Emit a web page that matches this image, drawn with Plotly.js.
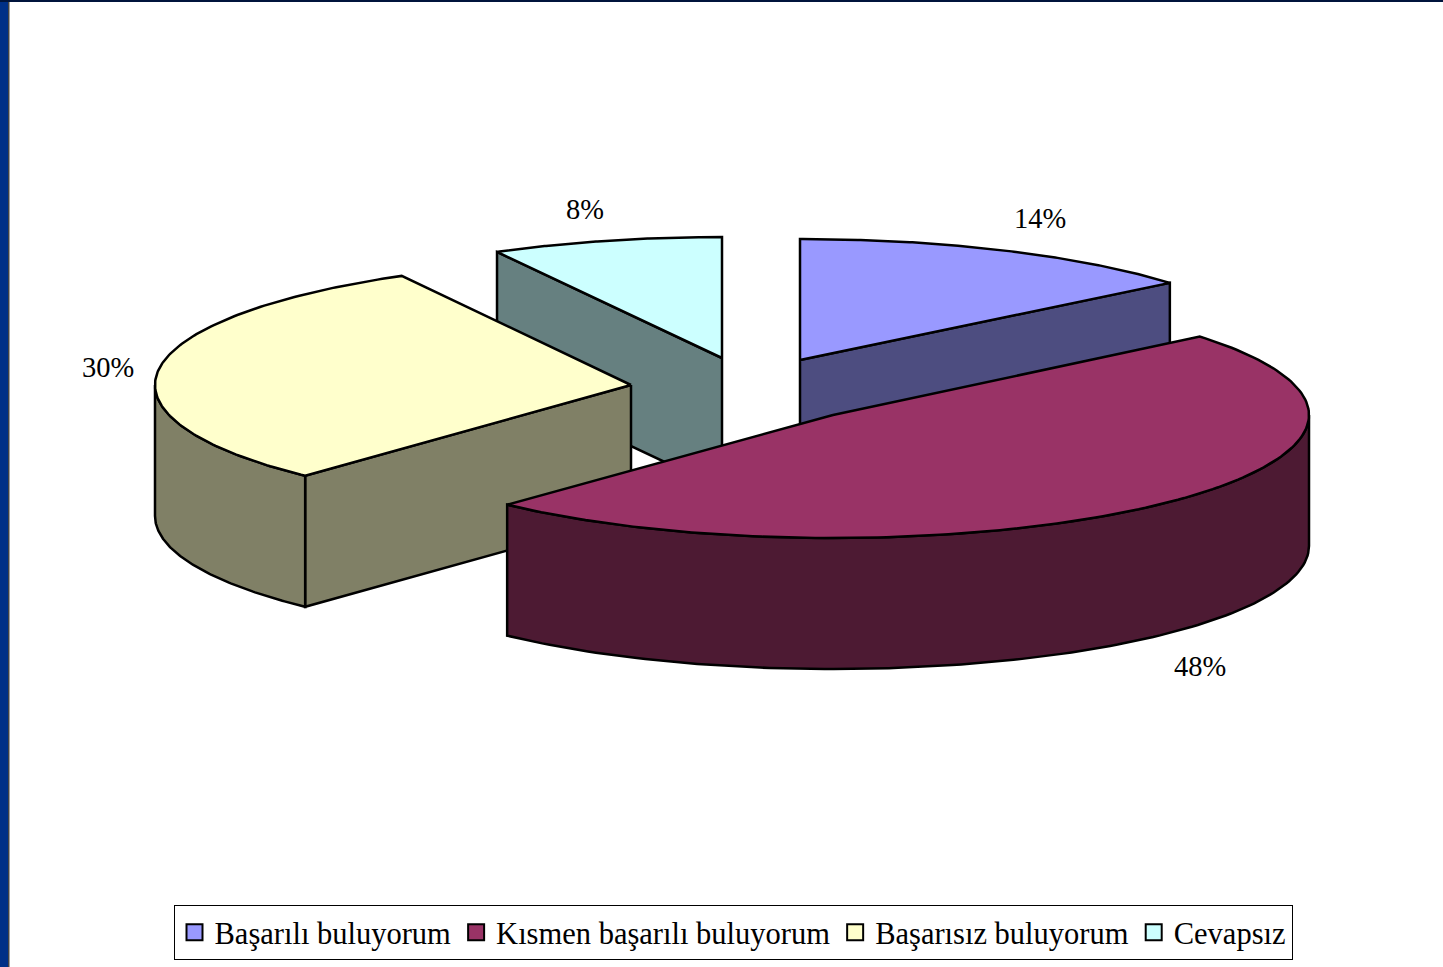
<!DOCTYPE html>
<html>
<head>
<meta charset="utf-8">
<script src="https://cdn.plot.ly/plotly-3.0.1.min.js"></script>
<style>html,body{margin:0;padding:0;background:#fff;overflow:hidden}#chart{width:1443px;height:967px}</style>
</head>
<body>
<div id="chart"></div>
<script>
// Data
const categories = ["Başarılı buluyorum", "Kısmen başarılı buluyorum", "Başarısız buluyorum", "Cevapsız"];
const percentages = [14, 48, 30, 8];

// Styles
const topColors = ["#9999FF", "#993366", "#FFFFCC", "#CCFFFF"];
const wallColors = ["#4D4D80", "#4D1A33", "#808066", "#668080"];

// Projection of the exploded pie
const apexX = [800, 833, 631, 722];
const apexY = [360, 415, 385, 358];
const radiusX = [480, 476, 476, 467];
const radiusY = [121, 123, 124.5, 121];
const depth = 131;
const drawOrder = [3, 0, 2, 1];
const labelX = [1040, 1200, 108, 585];
const labelY = [218, 666, 367, 209];

const serif = '"Liberation Serif", "Times New Roman", serif';
const rad = d => d * Math.PI / 180;

function rim(i, deg) {
  return [apexX[i] + radiusX[i] * Math.sin(rad(deg)), apexY[i] - radiusY[i] * Math.cos(rad(deg))];
}
function poly(xs, ys, fill) {
  return {
    type: "scatter", mode: "lines", x: xs.concat(xs[0]), y: ys.concat(ys[0]),
    fill: "toself", fillcolor: fill, line: {color: "#000", width: 2.5, shape: "linear"},
    showlegend: false, hoverinfo: "skip"
  };
}
function cutWall(i, deg) {
  const p = rim(i, deg);
  return poly([apexX[i], p[0], p[0], apexX[i]],
              [apexY[i], p[1], p[1] + depth, apexY[i] + depth], wallColors[i]);
}
function sliceTraces(i, startDeg, endDeg) {
  const out = [];
  if (Math.sin(rad(startDeg)) < -1e-6) out.push(cutWall(i, startDeg));
  if (Math.sin(rad(endDeg)) > 1e-6) out.push(cutWall(i, endDeg));
  const a = Math.max(startDeg, 90), b = Math.min(endDeg, 270);
  if (b > a) {
    const xs = [], ys = [], xb = [], yb = [];
    for (let d = a; d <= b + 1e-6; d += (b - a) / 120) {
      const p = rim(i, d);
      xs.push(p[0]); ys.push(p[1]);
      xb.unshift(p[0]); yb.unshift(p[1] + depth);
    }
    out.push(poly(xs.concat(xb), ys.concat(yb), wallColors[i]));
  }
  const tx = [apexX[i]], ty = [apexY[i]];
  for (let k = 0; k <= 160; k++) {
    const p = rim(i, startDeg + (endDeg - startDeg) * k / 160);
    tx.push(p[0]); ty.push(p[1]);
  }
  out.push(poly(tx, ty, topColors[i]));
  return out;
}

const starts = [];
percentages.reduce((acc, v, i) => { starts[i] = acc; return acc + v; }, 0);
const total = percentages.reduce((s, v) => s + v, 0);

let traces = [];
drawOrder.forEach(i => {
  const s = starts[i] / total * 360, e = (starts[i] + percentages[i]) / total * 360;
  traces = traces.concat(sliceTraces(i, s, e));
});

// legend entries
categories.forEach((c, i) => traces.push({
  type: "scatter", mode: "markers", x: [null], y: [null], name: c,
  marker: {symbol: "square", size: 16, color: topColors[i], line: {color: "#000", width: 2}}
}));

const layout = {
  width: 1443, height: 967,
  margin: {l: 0, r: 0, t: 0, b: 0},
  paper_bgcolor: "#fff", plot_bgcolor: "#fff",
  xaxis: {range: [0, 1443], visible: false, fixedrange: true},
  yaxis: {range: [967, 0], visible: false, fixedrange: true},
  showlegend: true,
  legend: {
    orientation: "h", x: 733 / 1443, xanchor: "center", y: 7 / 967, yanchor: "bottom",
    bordercolor: "#000", borderwidth: 1, bgcolor: "#fff",
    font: {family: serif, size: 30.5, color: "#000"},
    itemclick: false, itemdoubleclick: false, traceorder: "normal"
  },
  annotations: percentages.map((v, i) => ({
    x: labelX[i], y: labelY[i], xref: "x", yref: "y", text: v + "%", showarrow: false,
    font: {family: serif, size: 28.5, color: "#000"}
  })),
  shapes: [
    {type: "rect", xref: "paper", yref: "paper", x0: 0, x1: 8 / 1443, y0: 0, y1: 1, fillcolor: "#003087", line: {width: 0}, layer: "above"},
    {type: "rect", xref: "paper", yref: "paper", x0: 8 / 1443, x1: 9.5 / 1443, y0: 0, y1: 1, fillcolor: "#444", line: {width: 0}, layer: "above"},
    {type: "rect", xref: "paper", yref: "paper", x0: 0, x1: 1, y0: 1 - 2 / 967, y1: 1, fillcolor: "#00143c", line: {width: 0}, layer: "above"}
  ]
};
Plotly.newPlot("chart", traces, layout, {displayModeBar: false});
</script>
</body>
</html>
